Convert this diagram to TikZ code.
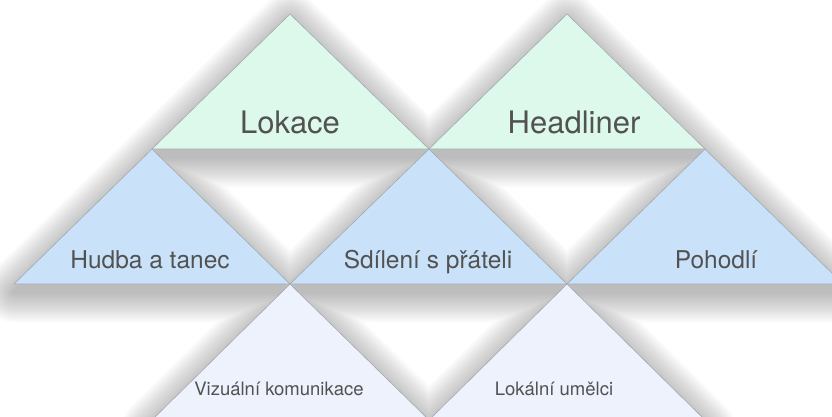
\documentclass[tikz,border=0pt]{standalone}
\usepackage{fontspec}
\setmainfont{TeX Gyre Heros}
\definecolor{gfill}{HTML}{DDF9EC}
\definecolor{bfill}{HTML}{C9E2F9}
\definecolor{lfill}{HTML}{EEF2FD}
\definecolor{edge}{HTML}{A2A8AE}
\definecolor{txt}{HTML}{525252}
\newcommand\triA{(290,14) -- (429,149) -- (152,149) -- cycle}
\newcommand\triB{(567,14) -- (705,149) -- (429,149) -- cycle}
\newcommand\triC{(152,149) -- (290,284) -- (14,284) -- cycle}
\newcommand\triD{(429,149) -- (567,284) -- (290,284) -- cycle}
\newcommand\triE{(705,149) -- (843,284) -- (567,284) -- cycle}
\newcommand\triF{(290,284) -- (429,420) -- (152,420) -- cycle}
\newcommand\triG{(567,284) -- (705,420) -- (429,420) -- cycle}
\tikzset{
  tri/.style={draw=edge, line width=0.6pt, line join=miter},
  shadelayer/.style={fill=black, draw=black, line join=round},
  lab/.style={anchor=base, inner sep=0pt, text=txt},
  big/.style={lab, font=\fontsize{31}{31}\selectfont},
  mid/.style={lab, font=\fontsize{24.5}{24.5}\selectfont},
  small/.style={lab, font=\fontsize{18.5}{18.5}\selectfont},
}
\begin{document}
\begin{tikzpicture}[x=1pt, y=-1pt]
\useasboundingbox (0,0) rectangle (832,416);
\begin{scope}
\clip (0,0) rectangle (832,416);
% soft shadows
\foreach \w in {60,56,52,48,44,40,36,32,28,24,20,16,12,8,4}{
  \begin{scope}[transparency group, opacity=0.02, yshift=-8pt]
    \path[shadelayer, line width=\w pt] \triA \triB \triC \triD \triE \triF \triG;
  \end{scope}
}
% row 1
\path[tri, fill=gfill] \triA;
\path[tri, fill=gfill] \triB;
% row 2
\path[tri, fill=bfill] \triC;
\path[tri, fill=bfill] \triD;
\path[tri, fill=bfill] \triE;
% row 3
\path[tri, fill=lfill] \triF;
\path[tri, fill=lfill] \triG;
\end{scope}
\node[big] (lokace) at (290,133) {Lokace};
\node[big] (headliner) at (574,133) {Headliner};
\node[mid] (hudba) at (150,268) {Hudba a tanec};
\node[mid] (sdileni) at (428,268) {Sdílení s přáteli};
\node[mid] (pohodli) at (716,268) {Pohodlí};
\node[small] (vizualni) at (279,395) {Vizuální komunikace};
\node[small] (lokalni) at (554,395) {Lokální umělci};
\end{tikzpicture}
\end{document}
